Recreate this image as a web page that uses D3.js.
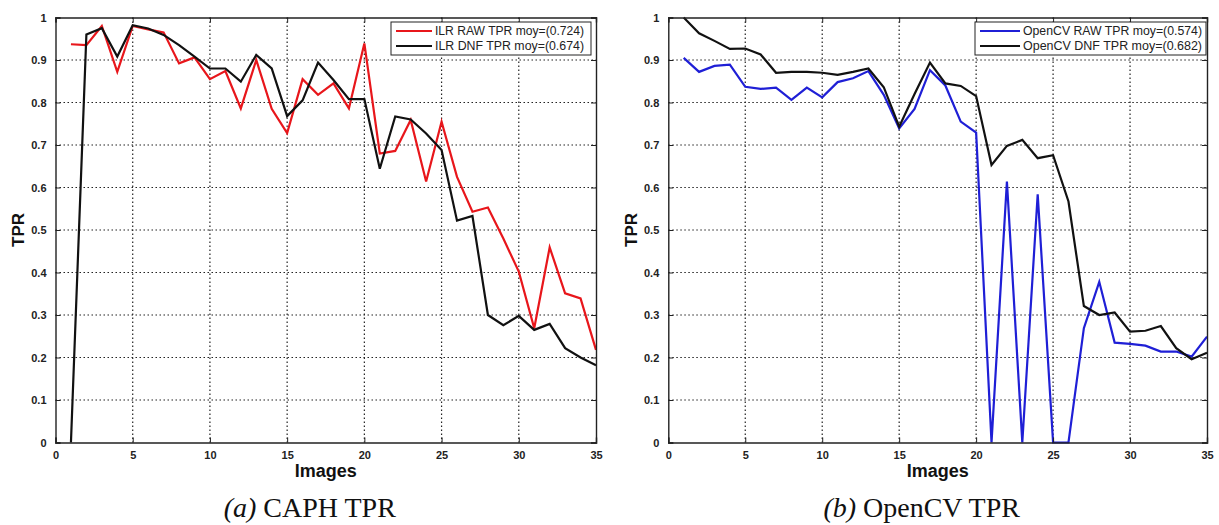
<!DOCTYPE html>
<html><head><meta charset="utf-8">
<script src="https://cdn.jsdelivr.net/npm/d3@7"></script>
<style>body{margin:0;background:#fff}svg{display:block}</style>
</head><body>
<svg id="c" width="1219" height="525"></svg>
<script>
const images = d3.range(1, 36);
const xTicks = [0, 5, 10, 15, 20, 25, 30, 35];
const yTicks = [0, 0.1, 0.2, 0.3, 0.4, 0.5, 0.6, 0.7, 0.8, 0.9, 1];

const ilrRaw = [0.937,0.935,0.98,0.872,0.98,0.972,0.965,0.892,0.906,0.855,0.874,0.786,0.9,0.785,0.728,0.855,0.818,0.845,0.786,0.939,0.68,0.686,0.759,0.614,0.755,0.625,0.543,0.553,0.48,0.402,0.269,0.459,0.351,0.339,0.218];
const ilrDnf = [0,0.96,0.975,0.908,0.982,0.974,0.959,0.935,0.908,0.88,0.88,0.849,0.912,0.88,0.768,0.805,0.894,0.853,0.808,0.808,0.644,0.767,0.76,0.727,0.688,0.522,0.533,0.3,0.276,0.298,0.265,0.279,0.222,0.2,0.182];
const cvRaw = [0.905,0.872,0.886,0.889,0.837,0.832,0.835,0.806,0.835,0.812,0.848,0.857,0.874,0.818,0.739,0.785,0.876,0.84,0.755,0.729,0,0.614,0,0.584,0,0,0.269,0.378,0.235,0.232,0.228,0.214,0.214,0.202,0.249];
const cvDnf = [1.0,0.963,0.945,0.926,0.927,0.913,0.87,0.872,0.872,0.87,0.865,0.872,0.88,0.836,0.743,0.82,0.894,0.845,0.839,0.815,0.653,0.698,0.712,0.669,0.676,0.567,0.321,0.3,0.306,0.261,0.263,0.274,0.222,0.196,0.211];

const panels = [
  {x0:55.5, x1:596, series:[{name:"ILR RAW TPR moy=(0.724)", values:ilrRaw, color:"#e8161b"},{name:"ILR DNF TPR moy=(0.674)", values:ilrDnf, color:"#111"}],
   legend:{x:391, w:200, lineLen:36, textW:149}, label:"(a)", caption:" CAPH TPR", yLabX:18},
  {x0:668.3, x1:1207, series:[{name:"OpenCV RAW TPR moy=(0.574)", values:cvRaw, color:"#1f1fd6"},{name:"OpenCV DNF TPR moy=(0.682)", values:cvDnf, color:"#111"}],
   legend:{x:975, w:231, lineLen:40, textW:179}, label:"(b)", caption:" OpenCV TPR", yLabX:631}
];

const svg = d3.select("#c");
const yTop = 17.5, yBot = 442.5;
const font = "'Liberation Sans', Arial, sans-serif";

panels.forEach(p => {
  const x = d3.scaleLinear().domain([0,35]).range([p.x0, p.x1]);
  const y = d3.scaleLinear().domain([0,1]).range([yBot, yTop]);
  const g = svg.append("g");

  // grid
  g.append("g").selectAll("line").data(xTicks.slice(1,-1)).join("line")
    .attr("x1", d=>x(d)).attr("x2", d=>x(d)).attr("y1", yTop).attr("y2", yBot)
    .attr("stroke","#222").attr("stroke-width",1.2).attr("stroke-dasharray","1.5,2.5");
  g.append("g").selectAll("line").data(yTicks.slice(1,-1)).join("line")
    .attr("y1", d=>y(d)).attr("y2", d=>y(d)).attr("x1", p.x0).attr("x2", p.x1)
    .attr("stroke","#222").attr("stroke-width",1.2).attr("stroke-dasharray","1.5,2.5");

  // series
  const line = d3.line().x((d,i)=>x(images[i])).y(d=>y(d));
  p.series.forEach(s => {
    g.append("path").datum(s.values).attr("d", line)
      .attr("fill","none").attr("stroke", s.color).attr("stroke-width",2.2)
      .attr("stroke-linejoin","miter");
  });

  // axes (box + inward ticks)
  const tk = 5;
  const bottom = d3.axisBottom(x).tickValues(xTicks).tickSize(-tk).tickPadding(9).tickFormat(d3.format("d"));
  const top = d3.axisTop(x).tickValues(xTicks).tickSize(-tk).tickFormat("");
  const left = d3.axisLeft(y).tickValues(yTicks).tickSize(-tk).tickPadding(9).tickFormat(d=> d===0||d===1 ? d3.format("d")(d) : d3.format(".1f")(d));
  const right = d3.axisRight(y).tickValues(yTicks).tickSize(-tk).tickFormat("");
  [[bottom,`translate(0,${yBot})`],[top,`translate(0,${yTop})`],[left,`translate(${p.x0},0)`],[right,`translate(${p.x1},0)`]].forEach(([a,t])=>{
    const ag = g.append("g").attr("transform", t).call(a);
    ag.select(".domain").attr("stroke","#222").attr("stroke-width",1.4);
    ag.selectAll(".tick line").attr("stroke","#222").attr("stroke-width",1);
    ag.selectAll("text").attr("font-family",font).attr("font-size",11).attr("fill","#222").attr("font-weight","bold");
  });

  // axis labels
  g.append("text").attr("x",(p.x0+p.x1)/2).attr("y",477).attr("text-anchor","middle")
    .attr("font-family",font).attr("font-weight","bold").attr("font-size",18).attr("fill","#111").text("Images");
  g.append("text").attr("transform",`translate(${p.yLabX+6},230) rotate(-90)`).attr("text-anchor","middle")
    .attr("font-family",font).attr("font-weight","bold").attr("font-size",17).attr("fill","#111").text("TPR");

  // caption
  const cap = g.append("text").attr("x",(p.x0+p.x1)/2 - 16).attr("y",517).attr("text-anchor","middle")
    .attr("font-family","'Liberation Serif','DejaVu Serif',serif").attr("font-size",28).attr("fill","#111");
  cap.append("tspan").attr("font-style","italic").text(p.label);
  cap.append("tspan").text(p.caption);

  // legend
  const L = p.legend, ly = 22, lh = 33;
  const lg = g.append("g");
  lg.append("rect").attr("x",L.x).attr("y",ly).attr("width",L.w).attr("height",lh)
    .attr("fill","#fff").attr("stroke","#222").attr("stroke-width",1);
  p.series.forEach((s,i)=>{
    const yy = ly + 9 + i*15;
    lg.append("line").attr("x1",L.x+5).attr("x2",L.x+5+L.lineLen).attr("y1",yy).attr("y2",yy)
      .attr("stroke",s.color).attr("stroke-width",2.2);
    lg.append("text").attr("x",L.x+L.lineLen+8).attr("y",yy+4).attr("font-family",font).attr("font-size",12)
      .attr("fill","#222").attr("textLength",L.textW).attr("lengthAdjust","spacingAndGlyphs").text(s.name);
  });
});
</script>
</body></html>
